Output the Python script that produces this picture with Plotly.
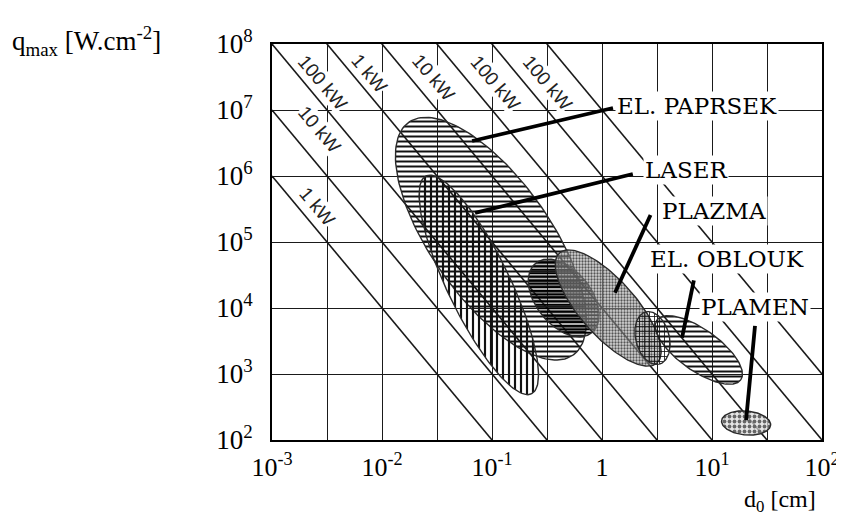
import numpy as np
import plotly.graph_objects as go

# ---------------- axis ticks ----------------
x_tick_exps = [-3, -2.5, -2, -1.5, -1, -0.5, 0, 0.5, 1, 1.5, 2]
x_tick_text = ["10<sup>-3</sup>", "", "10<sup>-2</sup>", "", "10<sup>-1</sup>", "",
               "1", "", "10<sup>1</sup>", "", "10<sup>2</sup>"]
y_tick_exps = [2, 3, 4, 5, 6, 7, 8]
y_tick_text = ["10<sup>2</sup>", "10<sup>3</sup>", "10<sup>4</sup>", "10<sup>5</sup>",
               "10<sup>6</sup>", "10<sup>7</sup>", "10<sup>8</sup>"]

# ---------------- constant-power lines  q * d^2 = 10^k ----------------
power_exps = [0, 1, 2, 3, 4, 5, 6, 7]

# labels on the power lines (log10 d, log10 q of label centre)
pl_text = ["1 kW", "10 kW", "100 kW", "1 kW", "10 kW", "100 kW", "100 kW"]
pl_logd = [-2.588, -2.570, -2.543, -2.113, -1.530, -0.975, -0.500]
pl_logq = [5.545, 6.700, 7.410, 7.560, 7.500, 7.410, 7.410]

# ---------------- process regions (ellipses in log-log space) ----------------
reg_name = ["EL. PAPRSEK", "LASER", "EL. OBLOUK (core)", "PLAZMA",
            "EL. OBLOUK", "EL. OBLOUK (spot)", "PLAMEN"]
reg_c_logd = [-1.010, -1.120, -0.348, 0.056, 0.880, 0.459, 1.310]
reg_c_logq = [5.050, 4.350, 4.152, 4.000, 3.364, 3.545, 2.258]
reg_tip_logd = [-1.760, -1.600, -0.607, -0.388, 0.498, 0.396, 1.087]
reg_tip_logq = [6.810, 6.000, 4.674, 4.833, 3.815, 3.940, 2.291]
reg_ratio = [0.42, 0.26, 0.62, 0.38, 0.40, 0.63, 0.48]
reg_pattern = ["-", "|", "-", ".", "-", "+", "."]
reg_psize = [5, 6, 3.5, 3, 5, 5, 5]
reg_psolid = [0.4, 0.36, 0.55, 0.45, 0.4, 0.3, 0.45]
reg_fg = ["#111", "#111", "#000", "#555", "#111", "#111", "#666"]
reg_bg = ["rgba(0,0,0,0)", "rgba(0,0,0,0)", "rgba(60,60,60,0.25)",
          "rgba(170,170,170,0.5)", "rgba(0,0,0,0)", "rgba(0,0,0,0)",
          "rgba(220,220,220,0.7)"]

# ---------------- region labels and leader lines ----------------
lab_text = ["EL. PAPRSEK", "LASER", "PLAZMA", "EL. OBLOUK", "PLAMEN"]
lab_logd = [0.118, 0.369, 0.530, 0.414, 0.880]
lab_logq = [7.061, 6.091, 5.470, 4.742, 4.015]
lead_logd0 = [0.100, 0.280, 0.441, 0.835, 1.391]
lead_logq0 = [7.030, 6.030, 5.410, 4.420, 3.730]
lead_logd1 = [-1.181, -1.154, 0.118, 0.728, 1.310]
lead_logq1 = [6.530, 5.440, 4.230, 3.550, 2.300]

# ---------------- layout geometry ----------------
W, H = 844, 516
M_L, M_R, M_T, M_B = 264, 22, 36, 84
X_RANGE = [-3, 2]
Y_RANGE = [2, 8]
plot_w = W - M_L - M_R
plot_h = H - M_T - M_B
sx = plot_w / (X_RANGE[1] - X_RANGE[0])   # px per decade (x)
sy = plot_h / (Y_RANGE[1] - Y_RANGE[0])   # px per decade (y)
line_angle = np.degrees(np.arctan(2 * sy / sx))


def ellipse(c_ld, c_lq, t_ld, t_lq, ratio, n=160):
    cx, cy = c_ld * sx, -c_lq * sy
    tx, ty = t_ld * sx, -t_lq * sy
    ax_, ay_ = cx - tx, cy - ty
    bx, by = -ay_ * ratio, ax_ * ratio
    t = np.linspace(0, 2 * np.pi, n)
    X = cx + np.cos(t) * ax_ + np.sin(t) * bx
    Y = cy + np.cos(t) * ay_ + np.sin(t) * by
    return 10 ** (X / sx), 10 ** (-Y / sy)


fig = go.Figure()

# power lines
d_ends = np.array([10.0 ** X_RANGE[0], 10.0 ** X_RANGE[1]])
for k in power_exps:
    fig.add_trace(go.Scatter(x=d_ends, y=10.0 ** k / d_ends ** 2, mode="lines",
                             line=dict(color="#1a1a1a", width=1.6),
                             hoverinfo="skip", showlegend=False))

# regions
for i in range(len(reg_name)):
    ex, ey = ellipse(reg_c_logd[i], reg_c_logq[i], reg_tip_logd[i],
                     reg_tip_logq[i], reg_ratio[i])
    fig.add_trace(go.Scatter(
        x=ex, y=ey, mode="lines", fill="toself", name=reg_name[i],
        fillcolor="rgba(0,0,0,0)",
        fillpattern=dict(shape=reg_pattern[i], size=reg_psize[i],
                         solidity=reg_psolid[i], fgcolor=reg_fg[i],
                         bgcolor=reg_bg[i], fillmode="replace"),
        line=dict(color="#2a2a2a", width=1.4),
        hoverinfo="skip", showlegend=False))

# leader lines
for i in range(len(lab_text)):
    fig.add_trace(go.Scatter(
        x=[10 ** lead_logd0[i], 10 ** lead_logd1[i]],
        y=[10 ** lead_logq0[i], 10 ** lead_logq1[i]],
        mode="lines", line=dict(color="black", width=3.8),
        hoverinfo="skip", showlegend=False))

annotations = []
for i in range(len(lab_text)):
    annotations.append(dict(x=lab_logd[i], y=lab_logq[i], xref="x", yref="y",
                            text=lab_text[i], showarrow=False, xanchor="left",
                            yanchor="middle", bgcolor="white", borderpad=1,
                            font=dict(family="DejaVu Serif", size=23, color="black")))
for i in range(len(pl_text)):
    annotations.append(dict(x=pl_logd[i], y=pl_logq[i], xref="x", yref="y",
                            text=pl_text[i], showarrow=False, textangle=line_angle,
                            xanchor="center", yanchor="middle", bgcolor="white",
                            borderpad=0,
                            font=dict(family="Liberation Sans", size=19, color="#222")))
# axis titles
annotations.append(dict(x=-(M_L + 2) / plot_w, y=1 + 3 / plot_h, xref="paper", yref="paper",
                        text="q<sub>max</sub> [W.cm<sup>-2</sup>]", showarrow=False,
                        xanchor="left", yanchor="middle",
                        font=dict(family="Liberation Serif", size=27, color="black")))
annotations.append(dict(x=(818 - M_L) / plot_w, y=-(493 - (H - M_B)) / plot_h,
                        xref="paper", yref="paper",
                        text="d<sub>0</sub> [cm]", showarrow=False,
                        xanchor="right", yanchor="middle",
                        font=dict(family="Liberation Serif", size=24, color="black")))

fig.update_layout(
    width=W, height=H, autosize=False,
    margin=dict(l=M_L, r=M_R, t=M_T, b=M_B),
    paper_bgcolor="white", plot_bgcolor="white",
    showlegend=False,
    annotations=annotations,
    xaxis=dict(type="log", range=X_RANGE,
               tickvals=[10 ** e for e in x_tick_exps], ticktext=x_tick_text,
               showgrid=True, gridcolor="#1a1a1a", gridwidth=1.4,
               showline=True, linecolor="black", linewidth=2, mirror=True,
               ticks="", zeroline=False, ticklabelstandoff=3,
               tickfont=dict(family="Liberation Serif", size=26, color="black")),
    yaxis=dict(type="log", range=Y_RANGE,
               tickvals=[10 ** e for e in y_tick_exps], ticktext=y_tick_text,
               showgrid=True, gridcolor="#1a1a1a", gridwidth=1.4,
               showline=True, linecolor="black", linewidth=2, mirror=True,
               ticks="", zeroline=False, ticklabelstandoff=12,
               tickfont=dict(family="Liberation Serif", size=27, color="black")),
)

fig.write_html("out.html")
